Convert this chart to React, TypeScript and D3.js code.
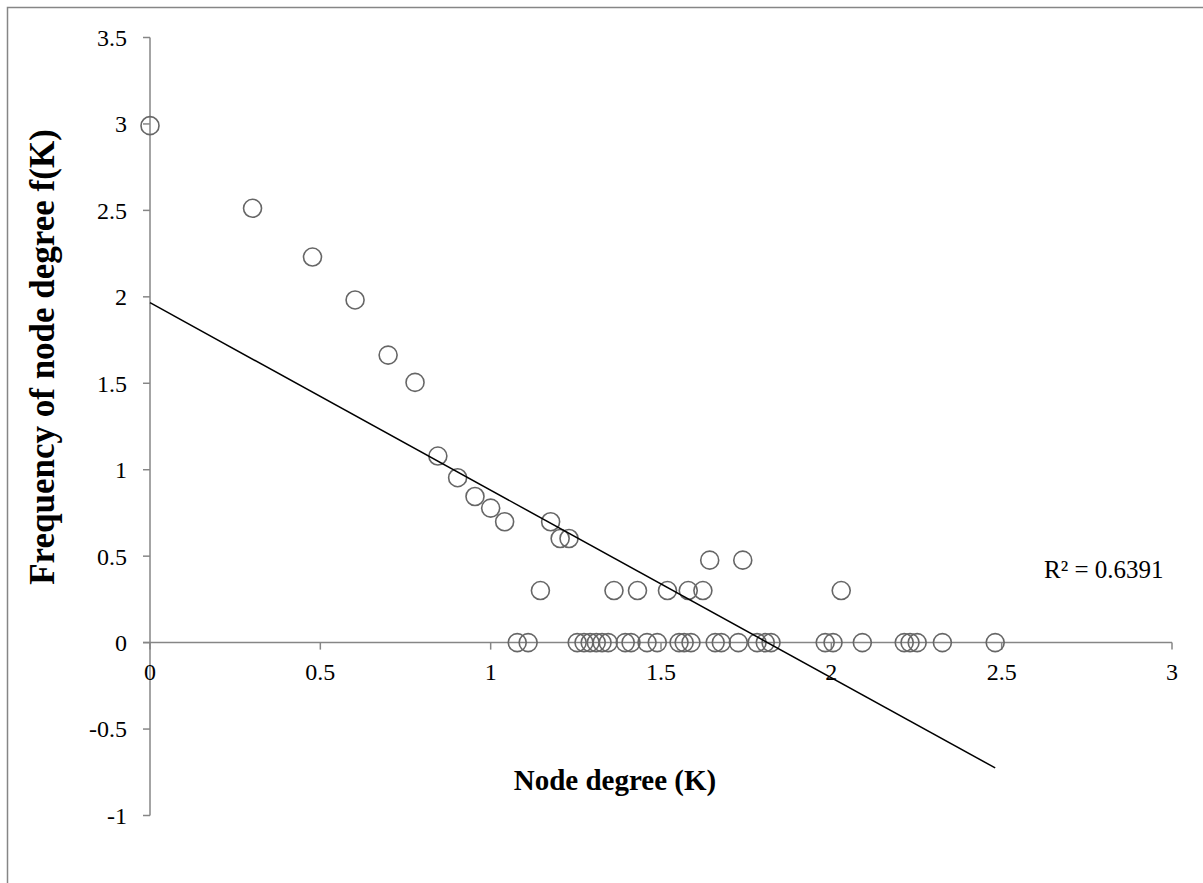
import React from "react";
import * as d3 from "d3";

// Data: log10(node degree) vs log10(frequency)
const xUpper = [0, 0.301, 0.477, 0.602, 0.699, 0.778, 0.845, 0.903, 0.954, 1.0, 1.041, 1.176, 1.204, 1.23, 1.146, 1.362, 1.431, 1.519, 1.58, 1.623, 1.643, 1.74, 2.029];
const yUpper = [2.99, 2.512, 2.23, 1.982, 1.663, 1.505, 1.079, 0.954, 0.845, 0.778, 0.699, 0.699, 0.602, 0.602, 0.301, 0.301, 0.301, 0.301, 0.301, 0.301, 0.477, 0.477, 0.301];
const xZero = [1.078, 1.11, 1.254, 1.274, 1.292, 1.31, 1.327, 1.345, 1.395, 1.412, 1.459, 1.489, 1.553, 1.568, 1.588, 1.659, 1.677, 1.727, 1.782, 1.806, 1.823, 1.982, 2.005, 2.091, 2.214, 2.231, 2.252, 2.326, 2.481];
const xTicks = [0, 0.5, 1, 1.5, 2, 2.5, 3];
const yTicks = [-1, -0.5, 0, 0.5, 1, 1.5, 2, 2.5, 3, 3.5];
const xTitle = "Node degree (K)";
const yTitle = "Frequency of node degree f(K)";
const r2Label = "R² = 0.6391";

type Pt = { x: number; y: number };
const points: Pt[] = [
  ...xUpper.map((x, i) => ({ x, y: yUpper[i] })),
  ...xZero.map((x) => ({ x, y: 0 })),
];

export default function App() {
  const W = 1203, H = 883;
  const x = d3.scaleLinear().domain([0, 3]).range([150, 1172]);
  const y = d3.scaleLinear().domain([-1, 3.5]).range([815.5, 37.5]);
  const font = "'Liberation Serif', 'Times New Roman', serif";
  const axisColor = "#868686";

  // linear regression
  const mx = d3.mean(points, (p) => p.x)!;
  const my = d3.mean(points, (p) => p.y)!;
  const sxy = d3.sum(points, (p) => (p.x - mx) * (p.y - my));
  const sxx = d3.sum(points, (p) => (p.x - mx) * (p.x - mx));
  const slope = sxy / sxx;
  const icpt = my - slope * mx;
  const xmin = d3.min(points, (p) => p.x)!;
  const xmax = d3.max(points, (p) => p.x)!;
  const line = d3.line<number>().x((v) => x(v)).y((v) => y(icpt + slope * v));

  return (
    <svg width={W} height={H} style={{ position: "absolute", left: 0, top: 0, background: "#fff" }} fontFamily={font}>
      <rect x={7.5} y={7.5} width={1200} height={880} fill="#fff" stroke={axisColor} strokeWidth={1.5} />
      {/* y axis */}
      <line x1={x(0)} x2={x(0)} y1={y(3.5)} y2={y(-1)} stroke={axisColor} strokeWidth={1.5} />
      {yTicks.map((t) => (
        <g key={"y" + t}>
          <line x1={x(0) - 7} x2={x(0)} y1={y(t)} y2={y(t)} stroke={axisColor} strokeWidth={1.5} />
          <text x={127} y={y(t)} dy="0.35em" textAnchor="end" fontSize={24} fill="#000">{t}</text>
        </g>
      ))}
      {/* x axis */}
      <line x1={x(0) - 7} x2={x(3)} y1={y(0)} y2={y(0)} stroke={axisColor} strokeWidth={1.5} />
      {xTicks.map((t) => (
        <g key={"x" + t}>
          <line x1={x(t)} x2={x(t)} y1={y(0)} y2={y(0) + 7} stroke={axisColor} strokeWidth={1.5} />
          <text x={x(t)} y={y(0) + 37} textAnchor="middle" fontSize={24} fill="#000">{t}</text>
        </g>
      ))}
      {/* points */}
      {points.map((p, i) => (
        <circle key={i} cx={x(p.x)} cy={y(p.y)} r={9} fill="none" stroke="#666" strokeWidth={1.6} />
      ))}
      {/* trendline */}
      <path d={line([xmin, xmax]) || ""} fill="none" stroke="#000" strokeWidth={1.5} />
      <text x={1044} y={578} fontSize={25} fill="#000">{r2Label}</text>
      <text x={615} y={790} textAnchor="middle" fontSize={29} fontWeight="bold" fill="#000">{xTitle}</text>
      <text transform={`translate(54,357) rotate(-90)`} textAnchor="middle" fontSize={35} fontWeight="bold" fill="#000">{yTitle}</text>
    </svg>
  );
}
